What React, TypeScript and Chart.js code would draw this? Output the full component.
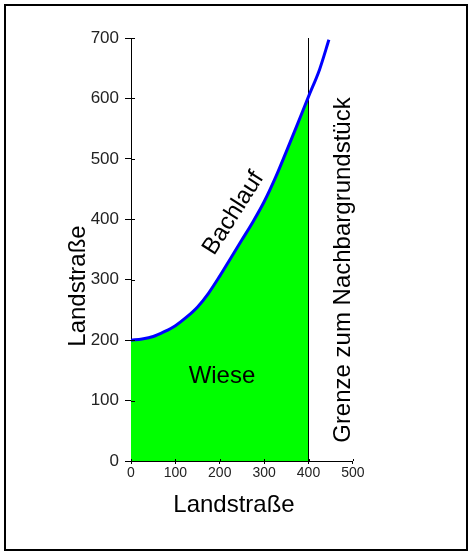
import React, { useEffect, useRef } from 'react';
import { Chart, registerables } from 'chart.js';

Chart.register(...registerables);

// Bachlauf (stream) course: x along the road, y perpendicular
const streamX = [0, 25, 50, 75, 100, 125, 150, 175, 200, 225, 250, 275, 300, 325, 350, 375, 400, 425, 446];
const streamY = [200, 202, 206, 214, 224, 238, 255, 278, 306, 336, 366, 396, 429, 468, 512, 557, 603, 648, 697];

// boundary to neighbouring plot
const boundaryX = 400;
const boundaryY = [0, 700];

const xTickValues = [0, 100, 200, 300, 400, 500];
const yTickValues = [0, 100, 200, 300, 400, 500, 600, 700];

const xTitle = 'Landstraße';
const yTitle = 'Landstraße';
const meadowLabel = 'Wiese';
const streamLabel = 'Bachlauf';
const boundaryLabel = 'Grenze zum Nachbargrundstück';

const FONT = '"Liberation Sans", Arial, sans-serif';

const textPlugin = {
  id: 'textPlugin',
  afterDraw(chart: any) {
    const ctx = chart.ctx;
    const xs = chart.scales.x;
    const ys = chart.scales.y;
    const ca = chart.chartArea;
    ctx.save();
    // inner tick parts
    ctx.strokeStyle = '#000';
    ctx.lineWidth = 1;
    ctx.beginPath();
    yTickValues.forEach((v) => {
      const py = Math.round(ys.getPixelForValue(v)) + 0.5;
      ctx.moveTo(ca.left, py);
      ctx.lineTo(ca.left + 4, py);
    });
    xTickValues.forEach((v) => {
      const px = Math.round(xs.getPixelForValue(v)) + 0.5;
      ctx.moveTo(px, ca.bottom);
      ctx.lineTo(px, ca.bottom - 2);
    });
    ctx.stroke();

    ctx.fillStyle = '#000';
    ctx.font = `24px ${FONT}`;
    // Wiese
    ctx.textAlign = 'center';
    ctx.textBaseline = 'alphabetic';
    ctx.fillText(meadowLabel, xs.getPixelForValue(205), ys.getPixelForValue(129));
    // x title
    ctx.fillText(xTitle, ca.left + 103, ca.bottom + 51);
    // y title
    ctx.save();
    ctx.translate(ca.left - 46, ca.top + 248);
    ctx.rotate(-Math.PI / 2);
    ctx.fillText(yTitle, 0, 0);
    ctx.restore();
    // boundary label
    ctx.save();
    ctx.translate(xs.getPixelForValue(493), ys.getPixelForValue(316));
    ctx.rotate(-Math.PI / 2);
    ctx.fillText(boundaryLabel, 0, 0);
    ctx.restore();
    // stream label
    ctx.save();
    ctx.translate(xs.getPixelForValue(231), ys.getPixelForValue(410));
    ctx.rotate((-57.6 * Math.PI) / 180);
    ctx.textBaseline = 'middle';
    ctx.fillText(streamLabel, 0, 0);
    ctx.restore();
    ctx.restore();
  },
};

export default function App() {
  const ref = useRef<HTMLCanvasElement | null>(null);

  useEffect(() => {
    if (!ref.current) return;
    const streamPts = streamX.map((x, i) => ({ x, y: streamY[i] }));
    const meadowPts = streamPts.filter((p) => p.x <= boundaryX);
    const boundaryPts = boundaryY.map((y) => ({ x: boundaryX, y }));

    const chart = new Chart(ref.current, {
      type: 'line',
      data: {
        datasets: [
          {
            label: 'Bachlauf',
            data: streamPts,
            borderColor: '#0000ff',
            borderWidth: 3,
            fill: false,
            pointRadius: 0,
            cubicInterpolationMode: 'monotone',
            order: 0,
          },
          {
            label: 'Grenze',
            data: boundaryPts,
            borderColor: '#000000',
            borderWidth: 1,
            fill: false,
            pointRadius: 0,
            order: 1,
          },
          {
            label: 'Wiese',
            data: meadowPts,
            borderWidth: 0,
            borderColor: 'rgba(0,0,0,0)',
            backgroundColor: '#00ff00',
            fill: 'origin',
            pointRadius: 0,
            cubicInterpolationMode: 'monotone',
            order: 2,
          },
        ],
      },
      options: {
        animation: false,
        responsive: false,
        maintainAspectRatio: false,
        layout: { padding: { left: 0, top: 38, right: 117.125, bottom: 0 } },
        plugins: { legend: { display: false }, tooltip: { enabled: false } },
        scales: {
          x: {
            type: 'linear',
            min: 0,
            max: 500,
            afterBuildTicks: (s: any) => {
              s.ticks = xTickValues.map((v) => ({ value: v }));
            },
            afterFit: (s: any) => {
              s.height = 91;
            },
            ticks: {
              font: { family: FONT, size: 14 },
              color: '#222',
              padding: 1,
              maxRotation: 0,
              autoSkip: false,
            },
            grid: { drawOnChartArea: false, drawTicks: true, tickLength: 3, color: '#000' },
            border: { display: true, color: '#000', width: 1 },
          },
          y: {
            type: 'linear',
            min: 0,
            max: 700,
            afterBuildTicks: (s: any) => {
              s.ticks = yTickValues.map((v) => ({ value: v }));
            },
            afterFit: (s: any) => {
              s.width = 131;
            },
            ticks: {
              font: { family: FONT, size: 17 },
              color: '#222',
              padding: 6,
              autoSkip: false,
            },
            grid: { drawOnChartArea: false, drawTicks: true, tickLength: 6, color: '#000' },
            border: { display: true, color: '#000', width: 1 },
          },
        },
      },
      plugins: [textPlugin],
    });
    return () => chart.destroy();
  }, []);

  return (
    <div style={{ position: 'absolute', left: 0, top: 0, width: 470, height: 552, background: '#fff' }}>
      <canvas ref={ref} width={470} height={552} style={{ display: 'block', width: 470, height: 552 }} />
      <div
        style={{
          position: 'absolute',
          left: 4,
          top: 4,
          width: 464,
          height: 547,
          border: '2px solid #000',
          boxSizing: 'border-box',
          pointerEvents: 'none',
        }}
      />
    </div>
  );
}
